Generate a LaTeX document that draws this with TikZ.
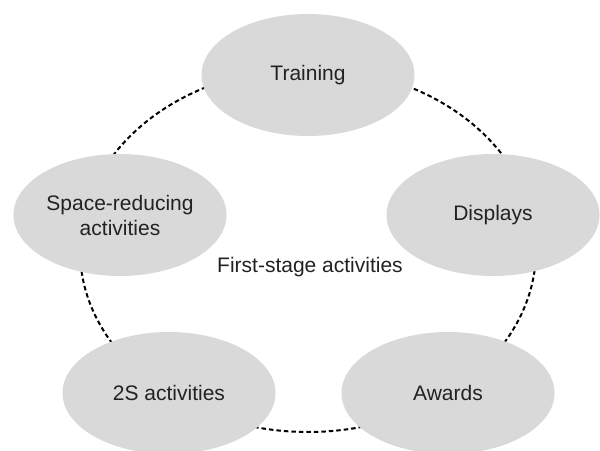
\documentclass[tikz,border=0pt]{standalone}
\usepackage{fontspec}
\setmainfont{Liberation Sans}
\usetikzlibrary{shapes.geometric}
\definecolor{ellfill}{HTML}{D9D9D9}
\definecolor{txt}{HTML}{222222}
\tikzset{
  act/.style={ellipse, fill=ellfill, inner sep=0pt, minimum width=213bp, minimum height=122bp,
    align=center, text=txt, font=\fontsize{21bp}{25bp}\selectfont},
  ring/.style={ellipse, draw=black, line width=2bp, dash pattern=on 4.5bp off 3bp,
    minimum width=456bp, minimum height=364bp, inner sep=0pt},
  lbl/.style={text=txt, font=\fontsize{21bp}{25bp}\selectfont, inner sep=0pt}
}
\begin{document}
\begin{tikzpicture}[x=1bp, y=-1bp]
\useasboundingbox (0,0) rectangle (600,451);
\clip (0,0) rectangle (600,451);
\node[ring] (ring) at (308,250) {};
\node[act] (tr) at (308,75) {Training};
\node[act] (di) at (493,215) {Displays};
\node[act] (aw) at (448,393) {Awards};
\node[act] (ss) at (169,393) {2S activities};
\node[act] (sp) at (120,215) {Space-reducing\\activities};
\node[lbl] (fs) at (310,267) {First-stage activities};
\end{tikzpicture}
\end{document}
